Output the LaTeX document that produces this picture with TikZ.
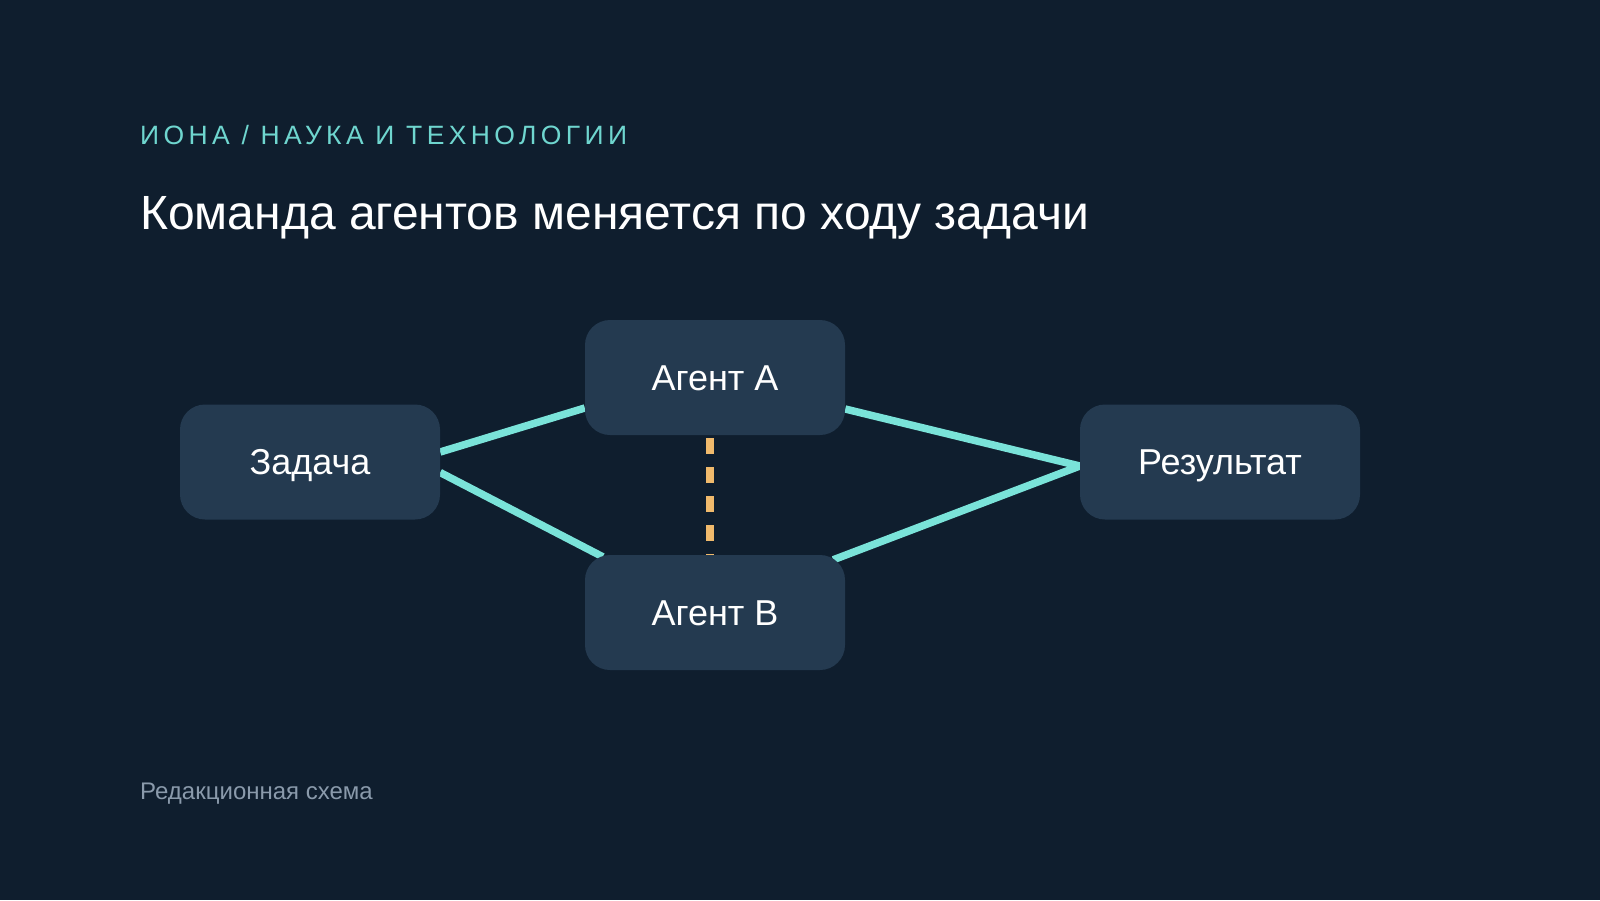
\documentclass[tikz,border=0pt]{standalone}
\usepackage{fontspec}
\setmainfont{Liberation Sans}
\newfontfamily\spacedfont[LetterSpace=16.5]{Liberation Sans}
\usetikzlibrary{calc}
\definecolor{bgc}{HTML}{0F1E2E}
\definecolor{boxc}{HTML}{243A50}
\definecolor{tealc}{HTML}{7AE3D9}
\definecolor{headc}{HTML}{6FD6CF}
\definecolor{orangec}{HTML}{F0BA6C}
\definecolor{footc}{HTML}{8A9AAB}
\pgfdeclarelayer{bg}
\pgfdeclarelayer{lines}
\pgfsetlayers{bg,lines,main}
\tikzset{
  box/.style={fill=boxc, rounded corners=25pt, minimum width=260pt, minimum height=115pt, inner sep=0pt, text=white, font=\fontsize{36}{42}\selectfont, text height=25.5pt, text depth=0pt},
  link/.style={draw=tealc, line width=7.5pt},
  dashlink/.style={draw=orangec, line width=8pt, dash pattern=on 15.5pt off 13.5pt},
}
\begin{document}
\begin{tikzpicture}[x=1pt,y=-1pt]
\begin{pgfonlayer}{bg}
\fill[bgc] (0,0) rectangle (1600,900);
\end{pgfonlayer}
\useasboundingbox (0,0) rectangle (1600,900);
\node[anchor=base west, inner sep=0pt, text=headc, font=\spacedfont\fontsize{26.5}{30}\selectfont] (head) at (140,144) {ИОНА / НАУКА И ТЕХНОЛОГИИ};
\node[anchor=base west, inner sep=0pt, text=white, font=\fontsize{48}{56}\selectfont] (title) at (140,229) {Команда агентов меняется по ходу задачи};
\node[anchor=base west, inner sep=0pt, text=footc, font=\fontsize{24}{28}\selectfont] (foot) at (140,799) {Редакционная схема};
\node[box] (Z) at (310,462) {Задача};
\node[box] (A) at (715,377.5) {Агент А};
\node[box] (B) at (715,612.5) {Агент В};
\node[box, minimum width=280pt] (R) at (1220,462) {Результат};
\begin{pgfonlayer}{lines}
\draw[link] ($(Z.east)+(0,-10)$) -- ($(A.west)+(0,30.5)$);
\draw[link] ($(Z.east)+(0,10.5)$) -- ($(B.north west)+(18,2)$);
\draw[link] ($(A.east)+(0,31.5)$) -- ($(R.west)+(0,4)$);
\draw[link] ($(R.west)+(0,4)$) -- ($(B.north east)+(-12,5)$);
\draw[dashlink] ($(A.south)+(-5,3)$) -- ($(B.north)+(-5,0)$);
\end{pgfonlayer}
\end{tikzpicture}
\end{document}
